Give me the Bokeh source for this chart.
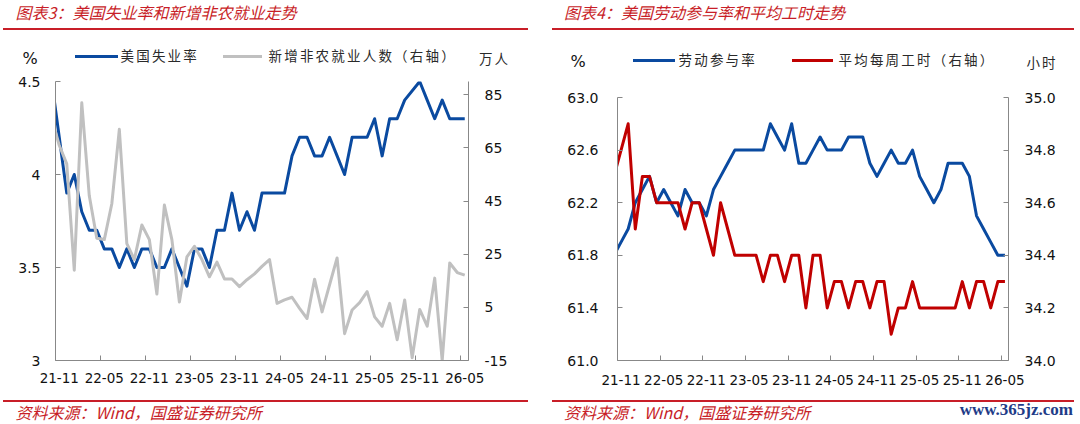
import pandas as pd
from bokeh.plotting import figure
from bokeh.models import Range1d, LinearAxis, FixedTicker, Div
from bokeh.layouts import row, column
from bokeh.embed import file_html
from bokeh.resources import INLINE

# ---------------- data ----------------
months = [p.strftime("%y-%m") for p in pd.period_range("2021-10", "2026-05", freq="M")]
x_tick_labels = ["21-11", "22-05", "22-11", "23-05", "23-11", "24-05", "24-11", "25-05", "25-11", "26-05"]

# 美国失业率 (%), 25-10 not published
unemployment_rate = [4.5, 4.2, 3.9, 4.0, 3.8, 3.7, 3.7, 3.6, 3.6, 3.5, 3.6, 3.5, 3.6, 3.6,
                     3.5, 3.5, 3.6, 3.5, 3.4, 3.6, 3.6, 3.5, 3.7, 3.7, 3.9, 3.7, 3.8, 3.7,
                     3.9, 3.9, 3.9, 3.9, 4.1, 4.2, 4.2, 4.1, 4.1, 4.2, 4.1, 4.0, 4.2, 4.2,
                     4.2, 4.3, 4.1, 4.3, 4.3, 4.4, None, 4.5, 4.4, 4.3, 4.4, 4.3, 4.3, 4.3]
# 新增非农就业人数 (万人)
nonfarm_payrolls = [76, 66, 59, 19, 82, 47, 31, 30.5, 44, 72, 29, 23, 36, 30.5,
                    10, 43.5, 30.5, 7, 24, 28, 23, 16.5, 22, 15.7, 15.7, 12.8, 15.4, 17.6,
                    20.4, 23, 6.5, 7.8, 8.8, 4.6, 0.8, 15.6, 3.3, 13.5, 23.6, -4.9, 4, 6.8,
                    10.9, 1.4, -2.1, 6.5, -7.2, 7.8, -14, 4.2, -2.1, 16, -15, 21.7, 18.1, 17.1]
# 劳动参与率 (%), 25-10 not published
participation_rate = [61.8, 61.9, 62.0, 62.2, 62.3, 62.4, 62.2, 62.3, 62.2, 62.1, 62.3, 62.2, 62.2, 62.1,
                      62.3, 62.4, 62.5, 62.6, 62.6, 62.6, 62.6, 62.6, 62.8, 62.7, 62.6, 62.8, 62.5, 62.5,
                      62.6, 62.7, 62.6, 62.6, 62.6, 62.7, 62.7, 62.7, 62.5, 62.4, 62.5, 62.6, 62.5, 62.5,
                      62.6, 62.4, 62.3, 62.2, 62.3, 62.5, None, 62.5, 62.4, 62.1, 62.0, 61.9, 61.8, 61.8]
# 平均每周工时 (小时)
weekly_hours = [34.7, 34.8, 34.9, 34.5, 34.7, 34.7, 34.6, 34.6, 34.6, 34.6, 34.5, 34.6, 34.6, 34.5,
                34.4, 34.6, 34.5, 34.4, 34.4, 34.4, 34.4, 34.3, 34.4, 34.4, 34.3, 34.4, 34.4, 34.2,
                34.4, 34.4, 34.2, 34.3, 34.3, 34.2, 34.3, 34.3, 34.2, 34.3, 34.3, 34.1, 34.2, 34.2,
                34.3, 34.2, 34.2, 34.2, 34.2, 34.2, 34.2, 34.3, 34.2, 34.3, 34.3, 34.2, 34.3, 34.3]

left1_ticks = [3, 3.5, 4, 4.5]
left1_labels = ["3", "3.5", "4", "4.5"]
right1_ticks = [-15, 5, 25, 45, 65, 85]
right1_labels = ["-15", "5", "25", "45", "65", "85"]
left2_ticks = [61.0, 61.4, 61.8, 62.2, 62.6, 63.0]
left2_labels = ["61.0", "61.4", "61.8", "62.2", "62.6", "63.0"]
right2_ticks = [34.0, 34.2, 34.4, 34.6, 34.8, 35.0]
right2_labels = ["34.0", "34.2", "34.4", "34.6", "34.8", "35.0"]

# ---------------- styling / layout constants ----------------
BLUE = "#0A4AA0"
GRAY = "#C0C0C0"
RED = "#C00000"
TXT_RED = "#C81E28"
AXC = "#888888"
CJK = "Noto Sans CJK SC"
NUM = "DejaVu Sans"
PAGE_W = 1080
TOP_H = 70          # header strip
PLOT_H = 322        # plot row
BOT_H = 32          # footer strip
FRAME_TOP = 81      # page y of frame top (both plots share it)
FRAME_BOT = 360     # page y of frame bottom
DATA_TOP2 = 97      # page y of 63.0 / 35.0 in chart 4

origin = months.index("21-11")
xs = [i - origin for i in range(len(months))]
tick_pos = [months.index(l) - origin for l in x_tick_labels]
x_lo = -0.5
x_hi = (len(months) - 1 - origin) + 0.5


def pairs(vals):
    pts = [(x, v) for x, v in zip(xs, vals) if v is not None]
    return [a for a, _ in pts], [b for _, b in pts]


def style_axis(ax, size="14px", standoff=15):
    ax.axis_line_color = AXC
    ax.major_tick_line_color = AXC
    ax.major_tick_in = 5
    ax.major_tick_out = 0
    ax.minor_tick_line_color = None
    ax.major_label_text_font = NUM
    ax.major_label_text_font_size = size
    ax.major_label_text_color = "#111111"
    ax.major_label_standoff = standoff


def make_fig(width, bl, br, ylo, yhi, rlo, rhi):
    p = figure(width=width, height=PLOT_H, x_range=Range1d(x_lo, x_hi), y_range=Range1d(ylo, yhi),
               output_backend="svg", toolbar_location=None, title=None,
               x_axis_location=None, y_axis_location=None,
               min_border_left=bl, min_border_right=br,
               min_border_top=FRAME_TOP - TOP_H, min_border_bottom=TOP_H + PLOT_H - FRAME_BOT)
    p.extra_y_ranges = {"right": Range1d(rlo, rhi)}
    p.outline_line_color = None
    p.grid.grid_line_color = None
    p.background_fill_color = "white"
    p.border_fill_color = "white"
    return p


def add_axes(p, lticks, llabels, rticks, rlabels, lstand, rstand, xstand):
    ly = LinearAxis(ticker=FixedTicker(ticks=lticks), bounds=(min(lticks), max(lticks)),
                    major_label_overrides={t: s for t, s in zip(lticks, llabels)})
    style_axis(ly, "14px", lstand)
    p.add_layout(ly, "left")
    ry = LinearAxis(y_range_name="right", ticker=FixedTicker(ticks=rticks),
                    bounds=(min(rticks), p.extra_y_ranges["right"].end if min(rticks) < 0 else max(rticks)),
                    major_label_overrides={t: s for t, s in zip(rticks, rlabels)})
    style_axis(ry, "14px", rstand)
    p.add_layout(ry, "right")
    # tick marks at month boundaries
    bt = [t - 0.5 for t in tick_pos]
    xa = LinearAxis(ticker=FixedTicker(ticks=bt), major_label_overrides={t: "" for t in bt})
    style_axis(xa, "0px", 0)
    p.add_layout(xa, "below")
    # labels at month centres
    xl = LinearAxis(ticker=FixedTicker(ticks=tick_pos),
                    major_label_overrides={t: s for t, s in zip(tick_pos, x_tick_labels)})
    style_axis(xl, "13.5px", xstand)
    xl.axis_line_color = None
    xl.major_tick_line_color = None
    p.add_layout(xl, "below")


# ---------------- chart 3 ----------------
p1 = make_fig(540, 55, 72, 3, 4.5, -15, 90)
add_axes(p1, left1_ticks, left1_labels, right1_ticks, right1_labels, 15, 16, 12)
ux, uy = pairs(unemployment_rate)
p1.line(ux, uy, line_color=BLUE, line_width=3, line_join="round")
nx, ny = pairs(nonfarm_payrolls)
p1.line(nx, ny, line_color=GRAY, line_width=3, line_join="round", y_range_name="right")

# ---------------- chart 4 ----------------
ext = (DATA_TOP2 - FRAME_TOP) / (FRAME_BOT - DATA_TOP2)
p2 = make_fig(540, 77, 72, 61.0, 63.0 + 2.0 * ext, 34.0, 35.0 + 1.0 * ext)
add_axes(p2, left2_ticks, left2_labels, right2_ticks, right2_labels, 19, 16, 14)
lx, lyv = pairs(participation_rate)
p2.line(lx, lyv, line_color=BLUE, line_width=3, line_join="round")
hx, hy = pairs(weekly_hours)
p2.line(hx, hy, line_color=RED, line_width=3, line_join="round", y_range_name="right")


# ---------------- header / footer (HTML) ----------------
def t(x, yc, text, size, color, font, align="left", style="normal", weight="normal", spacing=0):
    if align == "left":
        pos = f"left:{x}px;"
    elif align == "center":
        pos = f"left:{x}px;transform:translateX(-50%);"
    else:
        pos = f"right:{PAGE_W - x}px;"
    return (f'<div style="position:absolute;{pos}top:{yc - size / 2}px;font-family:\'{font}\';'
            f'font-size:{size}px;line-height:{size}px;color:{color};font-style:{style};'
            f'font-weight:{weight};letter-spacing:{spacing}px;white-space:nowrap;">{text}</div>')


def r(x0, x1, y0, h, color):
    return (f'<div style="position:absolute;left:{x0}px;top:{y0}px;width:{x1 - x0}px;'
            f'height:{h}px;background:{color};"></div>')


def strip(items, h):
    return (f'<div style="position:relative;width:{PAGE_W}px;height:{h}px;overflow:visible;">'
            + "".join(items) + "</div>")


LEG = "#2A2A2A"
head = [
    t(15.5, 12, "图表3：美国失业率和新增非农就业走势", 16, TXT_RED, CJK, style="italic"),
    r(3, 528, 28, 2, TXT_RED),
    t(30, 59, "%", 16, "#111111", NUM, align="center"),
    r(75, 118, 54.5, 3, BLUE),
    t(120.5, 56, "美国失业率", 13.5, LEG, CJK, spacing=2.2),
    r(223, 262, 54.5, 3, GRAY),
    t(268.5, 56, "新增非农就业人数（右轴）", 13.5, LEG, CJK, spacing=2.2),
    t(479, 58.5, "万人", 13.5, LEG, CJK, spacing=2),
    t(564, 12, "图表4：美国劳动参与率和平均工时走势", 16, TXT_RED, CJK, style="italic"),
    r(552, 1074, 28, 2, TXT_RED),
    t(578, 62, "%", 16, "#111111", NUM, align="center"),
    r(633, 675, 58.5, 3, BLUE),
    t(678.5, 60, "劳动参与率", 13.5, LEG, CJK, spacing=2.2),
    r(792, 833, 58.5, 3, RED),
    t(838.5, 60, "平均每周工时（右轴）", 13.5, LEG, CJK, spacing=2.2),
    t(1026.5, 63, "小时", 13.5, LEG, CJK, spacing=2),
]
y0 = TOP_H + PLOT_H
foot = [
    r(3, 528, 400 - y0, 2, TXT_RED),
    t(15.5, 411.5 - y0, "资料来源：Wind，国盛证券研究所", 16, TXT_RED, CJK, style="italic"),
    r(552, 1074, 400 - y0, 2, TXT_RED),
    t(564, 411.5 - y0, "资料来源：Wind，国盛证券研究所", 16, TXT_RED, CJK, style="italic"),
    t(1073, 409 - y0, "www.365jz.com", 17, "#1F3C88", "Liberation Serif", align="right", weight="bold"),
]

header = Div(text=strip(head, TOP_H), width=PAGE_W, height=TOP_H, margin=0)
footer = Div(text=strip(foot, BOT_H), width=PAGE_W, height=BOT_H, margin=0)

layout = column(header, row(p1, p2, spacing=0), footer, spacing=0)
open("out.html", "w").write(file_html(layout, INLINE))
